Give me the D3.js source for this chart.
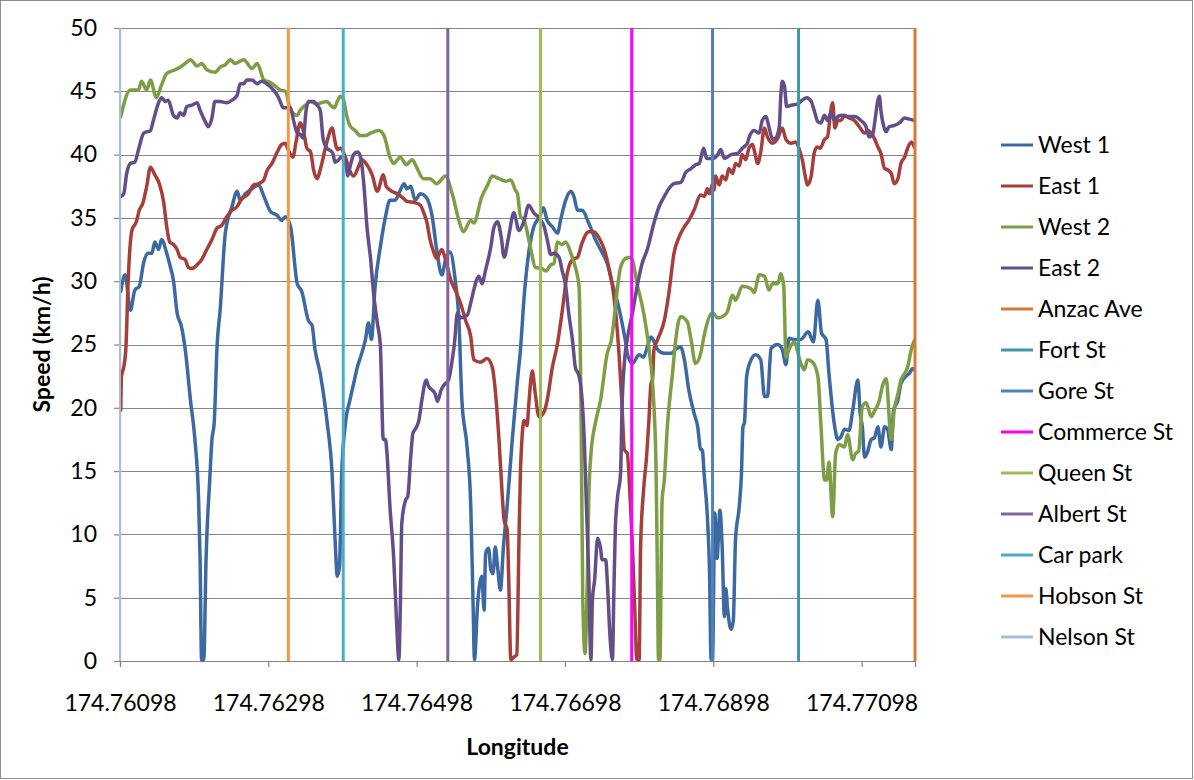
<!DOCTYPE html>
<html>
<head>
<meta charset="utf-8">
<script src="https://cdn.jsdelivr.net/npm/d3@7"></script>
<style>
  body { margin: 0; background: #fff; }
  #fig { width: 1194px; height: 780px; }
  text { font-family: Lato, "Open Sans", sans-serif; fill: #000; }
</style>
</head>
<body>
<div id="fig"></div>
<script>
let figName = 'fig';

// speed traces, [longitude, km/h]
let west1 = [[174.76099,29.2],[174.76105,30.5],[174.76112,27.7],[174.76118,29.3],[174.76124,29.6],[174.7613,31.5],[174.76136,32.2],[174.76141,32.2],[174.76145,33.1],[174.7615,32.5],[174.76154,33.3],[174.76161,32.2],[174.76166,31.1],[174.7617,30.1],[174.76175,27.5],[174.76181,26.4],[174.76186,24.6],[174.76193,20.6],[174.76199,17.5],[174.76204,12.7],[174.76206,8.0],[174.76208,0.1],[174.76211,0.1],[174.76214,8.0],[174.76219,14.3],[174.76222,17.5],[174.76225,18.8],[174.76229,25.0],[174.76233,27.7],[174.7624,33.8],[174.76249,35.9],[174.76256,37.1],[174.7626,36.4],[174.76267,36.9],[174.76276,37.3],[174.76285,37.6],[174.76292,36.7],[174.76301,35.5],[174.7631,35.2],[174.76316,34.8],[174.76321,35.1],[174.76328,34.3],[174.76337,29.8],[174.76343,29.2],[174.76352,26.9],[174.76357,26.5],[174.76361,24.6],[174.76368,22.7],[174.76377,19.0],[174.76384,14.8],[174.76388,9.6],[174.76391,6.7],[174.76394,7.5],[174.76397,14.8],[174.76402,18.8],[174.76408,20.6],[174.76413,21.9],[174.76418,23.2],[174.76424,24.3],[174.76429,25.4],[174.76433,26.7],[174.76437,25.4],[174.76442,29.6],[174.76449,32.7],[174.76456,35.1],[174.76462,36.4],[174.76469,36.4],[174.76476,37.2],[174.76481,37.7],[174.76485,37.3],[174.7649,37.5],[174.76496,36.4],[174.76503,36.9],[174.7651,36.7],[174.76519,35.1],[174.76525,32.5],[174.76532,30.5],[174.76537,31.7],[174.76543,32.3],[174.7655,30.1],[174.76555,26.9],[174.76559,20.6],[174.76566,16.9],[174.76571,12.2],[174.76574,4.8],[174.76576,0.1],[174.7658,4.3],[174.76583,6.1],[174.76586,6.7],[174.76589,4.0],[174.76591,8.5],[174.76595,8.9],[174.76598,7.2],[174.76601,6.9],[174.76604,9.0],[174.76607,7.5],[174.76611,5.6],[174.76615,9.0],[174.7662,12.2],[174.76627,17.5],[174.76634,22.2],[174.76638,24.6],[174.76643,28.8],[174.76649,32.2],[174.76656,34.3],[174.76664,35.1],[174.76669,35.8],[174.76674,34.8],[174.76681,34.3],[174.76688,33.8],[174.76692,34.8],[174.76699,36.4],[174.76706,37.1],[174.7671,36.7],[174.76715,35.6],[174.76721,35.6],[174.7673,34.6],[174.76739,33.3],[174.76746,32.5],[174.76755,31.4],[174.76762,29.8],[174.76769,28.3],[174.76775,26.7],[174.7678,25.1],[174.76782,24.3],[174.76789,23.5],[174.76798,24.2],[174.76804,24.0],[174.76809,24.8],[174.76814,25.6],[174.76823,24.6],[174.76832,24.3],[174.76841,24.3],[174.76847,24.6],[174.76854,24.8],[174.76859,23.8],[174.76865,21.4],[174.76872,19.6],[174.76877,18.5],[174.76881,16.7],[174.76883,16.7],[174.76886,14.5],[174.7689,11.4],[174.76893,6.9],[174.76895,0.1],[174.76897,0.1],[174.769,11.7],[174.76903,8.1],[174.76907,11.9],[174.7691,9.0],[174.76913,3.5],[174.76915,5.7],[174.76917,4.3],[174.76922,2.5],[174.76925,3.2],[174.76928,9.6],[174.76933,12.2],[174.76936,14.8],[174.76938,18.5],[174.7694,18.8],[174.76943,22.5],[174.76949,23.8],[174.76955,24.2],[174.76962,23.8],[174.76967,20.9],[174.76971,20.9],[174.76976,24.7],[174.76985,25.0],[174.76991,24.6],[174.76996,23.4],[174.77,25.5],[174.77007,25.4],[174.77016,25.4],[174.77026,26.0],[174.77033,25.2],[174.77039,28.5],[174.77044,25.9],[174.7705,25.4],[174.77054,22.7],[174.77061,18.8],[174.77066,17.5],[174.7707,17.7],[174.77075,18.3],[174.77081,18.2],[174.77086,19.8],[174.77093,22.2],[174.77096,19.6],[174.77099,18.5],[174.77102,16.1],[174.77106,16.5],[174.77111,17.5],[174.77115,17.6],[174.7712,18.5],[174.77124,16.9],[174.77129,18.5],[174.77133,18.3],[174.77138,16.7],[174.77141,19.8],[174.77147,20.6],[174.77151,21.9],[174.77158,22.5],[174.77162,22.7],[174.77167,23.1],[174.77169,23.0]];

let east1 = [[174.76099,19.8],[174.761,22.5],[174.76103,23.2],[174.76106,24.8],[174.76109,30.0],[174.76114,34.0],[174.7612,34.7],[174.76124,35.6],[174.76129,36.2],[174.76134,37.5],[174.76139,39.0],[174.76145,38.4],[174.76151,37.7],[174.76157,36.2],[174.76161,34.3],[174.76165,33.1],[174.7617,32.9],[174.76175,32.5],[174.76179,31.9],[174.76186,31.7],[174.7619,31.1],[174.76195,31.0],[174.76202,31.3],[174.76208,31.7],[174.76215,32.5],[174.76222,33.3],[174.76229,34.2],[174.76235,34.4],[174.76242,35.1],[174.76249,35.6],[174.76256,35.9],[174.76262,36.5],[174.76271,36.9],[174.76278,37.6],[174.76285,37.7],[174.76292,38.0],[174.76296,38.7],[174.76303,39.3],[174.7631,40.2],[174.76316,40.8],[174.76321,40.9],[174.76324,40.5],[174.76328,40.0],[174.76331,39.8],[174.76336,41.2],[174.76341,42.5],[174.76346,41.7],[174.7635,40.5],[174.76355,40.2],[174.76359,38.8],[174.76364,38.1],[174.76368,38.8],[174.76377,41.0],[174.76384,42.1],[174.76388,41.0],[174.76391,40.4],[174.76395,40.5],[174.76403,39.6],[174.76408,38.7],[174.76413,38.3],[174.7642,39.1],[174.76424,39.6],[174.76431,39.2],[174.76438,38.4],[174.76445,37.1],[174.76453,38.4],[174.76457,37.5],[174.76462,37.2],[174.76472,36.9],[174.76481,36.5],[174.76485,36.3],[174.76496,36.2],[174.76503,36.0],[174.76507,35.5],[174.76512,34.6],[174.76516,33.3],[174.76521,32.3],[174.76525,31.8],[174.76532,32.5],[174.76537,31.7],[174.76544,30.1],[174.7655,29.3],[174.76557,28.3],[174.76564,26.9],[174.76571,25.6],[174.76575,23.8],[174.76584,23.6],[174.76593,23.9],[174.766,23.2],[174.76604,21.4],[174.76609,17.5],[174.76613,13.5],[174.76616,11.1],[174.7662,10.4],[174.76622,6.9],[174.76625,0.1],[174.76629,0.3],[174.76633,0.5],[174.76636,9.6],[174.76638,15.0],[174.76643,19.0],[174.76647,18.6],[174.76649,20.1],[174.76654,22.9],[174.76658,21.1],[174.76663,19.3],[174.7667,19.7],[174.76674,20.6],[174.76681,23.2],[174.76688,25.1],[174.76694,27.5],[174.76701,30.6],[174.76708,31.7],[174.76715,31.9],[174.76721,33.0],[174.7673,33.9],[174.76737,33.9],[174.76744,33.4],[174.76751,32.5],[174.76757,31.1],[174.76764,28.8],[174.7677,25.0],[174.76775,20.1],[174.76778,16.7],[174.76782,16.4],[174.76786,12.7],[174.76789,9.0],[174.76792,4.3],[174.76795,0.1],[174.76798,0.1],[174.768,9.0],[174.76804,13.5],[174.76808,16.1],[174.76811,18.8],[174.76814,21.9],[174.76816,22.2],[174.76818,24.6],[174.76823,25.4],[174.76832,26.9],[174.76838,29.0],[174.76845,32.2],[174.76852,33.5],[174.76859,34.3],[174.76865,34.8],[174.76872,35.6],[174.76881,36.8],[174.76886,36.7],[174.7689,37.3],[174.76893,36.9],[174.76897,37.7],[174.76899,37.2],[174.76901,38.3],[174.76906,37.6],[174.7691,38.3],[174.76915,38.0],[174.76919,38.9],[174.76924,38.5],[174.76928,39.3],[174.76933,39.1],[174.76937,40.0],[174.76942,39.6],[174.76946,40.5],[174.76951,40.8],[174.76953,40.4],[174.76958,39.3],[174.76962,40.2],[174.76967,42.1],[174.76971,41.4],[174.76978,40.9],[174.76985,41.3],[174.76991,42.1],[174.76996,41.2],[174.77003,40.9],[174.77009,41.0],[174.77014,40.4],[174.77018,39.6],[174.77023,38.0],[174.77025,37.6],[174.7703,38.3],[174.77034,40.1],[174.77038,40.6],[174.77042,40.5],[174.77048,41.2],[174.77052,41.4],[174.77057,43.7],[174.77059,44.1],[174.77062,42.1],[174.77066,42.7],[174.7707,42.7],[174.77075,43.1],[174.77081,42.9],[174.77088,42.7],[174.77095,42.2],[174.77102,41.7],[174.77106,41.9],[174.77111,41.7],[174.77115,41.3],[174.7712,40.6],[174.77124,40.1],[174.77129,38.9],[174.77133,38.8],[174.77138,38.5],[174.77142,37.7],[174.77147,38.1],[174.77151,39.3],[174.77156,39.8],[174.7716,40.5],[174.77165,41.0],[174.77169,40.6]];

let west2 = [[174.76099,43.0],[174.76112,45.1],[174.76123,45.1],[174.76127,45.8],[174.76134,45.1],[174.76139,45.9],[174.76147,44.5],[174.76154,45.5],[174.76161,46.4],[174.76168,46.6],[174.76179,46.9],[174.76186,47.2],[174.76193,47.5],[174.76202,47.0],[174.76208,47.2],[174.76215,46.7],[174.76226,46.5],[174.76233,46.9],[174.7624,47.1],[174.76247,47.5],[174.76253,47.2],[174.76265,47.5],[174.76276,46.8],[174.76283,47.2],[174.76292,45.9],[174.76301,45.7],[174.76314,45.1],[174.76321,45.0],[174.76328,43.5],[174.76337,43.1],[174.76341,43.5],[174.76348,43.9],[174.76355,44.2],[174.76363,44.0],[174.7637,44.1],[174.76377,44.2],[174.76382,43.9],[174.76387,43.7],[174.76391,44.2],[174.76395,44.6],[174.76399,44.4],[174.76404,43.0],[174.76408,42.3],[174.76415,41.9],[174.76422,41.5],[174.76429,41.5],[174.76436,41.7],[174.76447,41.9],[174.76454,41.5],[174.76462,39.8],[174.76467,39.3],[174.76476,39.8],[174.76484,39.2],[174.76492,39.6],[174.76498,39.0],[174.76507,38.1],[174.76516,38.1],[174.76525,37.7],[174.76537,38.3],[174.76546,36.9],[174.76555,34.8],[174.76561,33.9],[174.76571,34.8],[174.76575,34.6],[174.76586,36.7],[174.76593,37.5],[174.766,38.3],[174.76609,38.1],[174.76618,37.9],[174.76625,38.0],[174.76631,37.2],[174.76634,36.9],[174.76638,35.1],[174.76643,34.8],[174.76652,32.5],[174.76658,31.1],[174.76667,31.0],[174.76672,30.8],[174.76679,31.3],[174.76683,31.4],[174.76688,33.1],[174.76694,32.9],[174.76699,33.1],[174.76706,32.2],[174.76712,31.1],[174.76717,29.6],[174.7672,18.0],[174.76722,5.0],[174.76725,0.6],[174.76728,6.0],[174.7673,12.7],[174.76733,16.3],[174.76739,18.8],[174.76746,20.6],[174.76755,24.3],[174.7676,25.2],[174.76773,31.1],[174.7678,31.8],[174.76787,31.9],[174.76796,29.6],[174.76805,27.2],[174.76811,24.8],[174.76818,20.1],[174.76821,14.6],[174.76823,5.0],[174.76824,0.1],[174.76826,0.1],[174.76829,12.7],[174.76832,14.3],[174.76836,18.5],[174.76843,22.7],[174.76847,25.2],[174.76854,27.2],[174.76863,26.8],[174.76868,25.4],[174.76874,23.5],[174.76881,24.3],[174.76886,25.8],[174.76897,27.5],[174.76904,27.1],[174.76913,27.3],[174.76917,27.6],[174.76924,28.9],[174.76928,28.5],[174.76937,29.6],[174.76949,29.4],[174.76953,29.1],[174.7696,30.5],[174.76967,30.4],[174.76973,29.3],[174.76978,29.8],[174.76985,29.8],[174.76989,30.6],[174.76993,29.6],[174.76996,24.0],[174.77,24.6],[174.77007,25.2],[174.77016,23.5],[174.77021,23.0],[174.77025,23.8],[174.77032,23.6],[174.77039,22.5],[174.77043,18.8],[174.77048,14.3],[174.77051,14.3],[174.77054,15.7],[174.77059,11.4],[174.77063,16.4],[174.77068,17.1],[174.77075,16.9],[174.77079,17.9],[174.77086,15.9],[174.7709,16.4],[174.77094,16.6],[174.77099,20.1],[174.77104,20.4],[174.77111,19.3],[174.77115,19.7],[174.77122,20.6],[174.77126,21.7],[174.77131,22.3],[174.77138,17.5],[174.77142,19.8],[174.77147,21.1],[174.77151,22.2],[174.77156,22.7],[174.7716,23.2],[174.77165,24.6],[174.77169,25.3]];

let east2 = [[174.76099,36.7],[174.76103,36.9],[174.76107,38.5],[174.76112,39.3],[174.76118,39.4],[174.76123,40.4],[174.7613,41.7],[174.76139,41.9],[174.76143,42.7],[174.7615,44.1],[174.76154,44.5],[174.76159,44.2],[174.76163,44.3],[174.7617,43.1],[174.76175,42.9],[174.76179,43.3],[174.76184,43.1],[174.76188,43.8],[174.76195,43.9],[174.76202,44.1],[174.76206,43.5],[174.76213,42.6],[174.76217,42.2],[174.76222,42.9],[174.76226,44.2],[174.76233,44.2],[174.76242,44.1],[174.76249,44.3],[174.76256,44.7],[174.7626,45.6],[174.76265,45.6],[174.76269,45.9],[174.76276,45.9],[174.76283,45.6],[174.76289,45.8],[174.76296,45.6],[174.76305,45.1],[174.7631,44.7],[174.76314,44.2],[174.76318,43.7],[174.76323,43.7],[174.76328,43.7],[174.76332,42.7],[174.76337,41.7],[174.76341,41.6],[174.76345,41.3],[174.76349,43.5],[174.76352,44.2],[174.76359,44.2],[174.76364,43.9],[174.76368,43.5],[174.76372,41.2],[174.76377,40.5],[174.76382,40.3],[174.76385,40.1],[174.76388,39.4],[174.76393,39.6],[174.76396,39.8],[174.76403,39.1],[174.76405,38.3],[174.76408,39.0],[174.76413,40.0],[174.76418,40.2],[174.76422,39.9],[174.76427,37.5],[174.76431,34.3],[174.76436,31.7],[174.7644,29.0],[174.76445,26.7],[174.76449,25.0],[174.76453,17.5],[174.76456,17.5],[174.76458,16.4],[174.76462,12.2],[174.76467,8.2],[174.76471,3.0],[174.76474,0.1],[174.76476,4.3],[174.76478,10.9],[174.76483,12.7],[174.76486,13.0],[174.7649,16.1],[174.76493,18.0],[174.76496,18.3],[174.76501,19.0],[174.76505,20.6],[174.76511,22.2],[174.76514,21.7],[174.76519,21.4],[174.76523,21.1],[174.76526,20.5],[174.76531,21.4],[174.76535,21.8],[174.76541,22.2],[174.76546,23.8],[174.76549,25.1],[174.76553,27.5],[174.76557,27.1],[174.76566,27.3],[174.76571,28.3],[174.76575,29.3],[174.76582,30.4],[174.76586,29.8],[174.76591,30.9],[174.76598,32.7],[174.76602,34.2],[174.76607,34.7],[174.76612,33.5],[174.76616,31.9],[174.76622,33.5],[174.76629,35.4],[174.76636,34.0],[174.76643,34.8],[174.76649,36.0],[174.76656,35.4],[174.76663,35.0],[174.7667,34.3],[174.76674,33.3],[174.76679,32.1],[174.76683,32.2],[174.7669,31.9],[174.76694,30.9],[174.76699,29.6],[174.76703,27.5],[174.76708,25.4],[174.76712,23.2],[174.76717,22.5],[174.7672,21.4],[174.76724,17.5],[174.76727,12.2],[174.7673,6.9],[174.76733,0.1],[174.76735,4.8],[174.76738,6.4],[174.76742,9.7],[174.76746,8.9],[174.76748,8.0],[174.76753,8.0],[174.76755,6.4],[174.76759,1.7],[174.76762,0.1],[174.76764,5.6],[174.76766,10.6],[174.76769,13.0],[174.76773,14.8],[174.76775,20.1],[174.76778,23.5],[174.76782,25.4],[174.76789,27.5],[174.76796,29.8],[174.76802,31.4],[174.76809,32.5],[174.76818,34.6],[174.76825,35.9],[174.76832,36.7],[174.76838,37.3],[174.76845,37.7],[174.76854,37.8],[174.76861,38.6],[174.76868,38.9],[174.76874,39.2],[174.76879,39.3],[174.76885,40.5],[174.76889,39.7],[174.76897,39.7],[174.76904,40.0],[174.76908,40.4],[174.76913,39.7],[174.76922,40.0],[174.76931,40.1],[174.76937,40.5],[174.76944,40.9],[174.76946,41.3],[174.76953,41.9],[174.7696,41.7],[174.76964,42.7],[174.76969,43.0],[174.76973,42.2],[174.76978,41.2],[174.76982,41.3],[174.76987,42.2],[174.76989,44.6],[174.76991,45.8],[174.76994,45.4],[174.76997,43.8],[174.77003,43.9],[174.77012,44.0],[174.77018,44.3],[174.77024,44.5],[174.7703,44.2],[174.77034,43.5],[174.77039,42.6],[174.77043,42.5],[174.77048,43.1],[174.77052,42.7],[174.77057,43.3],[174.77061,42.7],[174.77066,43.0],[174.77072,43.1],[174.77079,43.0],[174.77088,43.0],[174.77097,42.7],[174.77104,42.2],[174.77108,41.4],[174.77113,41.6],[174.77116,42.7],[174.7712,44.3],[174.77122,44.6],[174.77124,43.5],[174.77128,42.2],[174.77131,41.8],[174.77135,42.2],[174.77142,42.3],[174.77149,42.5],[174.77156,42.9],[174.77162,42.8],[174.77169,42.7]];

// street crossings, drawn as vertical lines from 0 to 50 km/h
let streetNames = ['Anzac Ave', 'Fort St', 'Gore St', 'Commerce St', 'Queen St', 'Albert St', 'Car park', 'Hobson St', 'Nelson St'];
let streetLon = [174.7717, 174.77013, 174.76897, 174.76788, 174.76665, 174.7654, 174.76399, 174.76325, 174.76098];
let streetSpeed = [0, 50];

let traceNames = ['West 1', 'East 1', 'West 2', 'East 2'];
let traces = [west1, east1, west2, east2];

let xTicks = [174.76098, 174.76298, 174.76498, 174.76698, 174.76898, 174.77098];
let xDomain = [174.76098, 174.7717];
let yTicks = [0, 5, 10, 15, 20, 25, 30, 35, 40, 45, 50];

let traceColors = ['#3c69a1', '#a63f3b', '#7e9e45', '#634e89'];
let streetColors = ['#d87a34', '#3b97ae', '#4f81bd', '#ff00ff', '#9bbb59', '#8064a2', '#4bacc6', '#f79646', '#a6bcdc'];

let width = 1194;
let height = 780;
let margin = {top: 28, right: 279, bottom: 119, left: 120};
let plot_width = width - margin.left - margin.right;
let plot_height = height - margin.top - margin.bottom;
const gridColor = '#868686';
const fontSize = 23;

let svg = d3.select(`div#${figName}`).append('svg')
    .attr('width', width)
    .attr('height', height);

svg.append('rect')
    .attr('x', 0.5).attr('y', 0.5)
    .attr('width', width - 2).attr('height', height - 2)
    .attr('fill', '#fff')
    .attr('stroke', '#8c8c8c');

let plot = svg.append('g')
    .attr('transform', `translate(${margin.left}, ${margin.top})`);

let x = d3.scaleLinear().domain(xDomain).range([0, plot_width]);
let y = d3.scaleLinear().domain([0, 50]).range([plot_height, 0]);

// horizontal gridlines
plot.append('g')
  .selectAll('line')
  .data(yTicks)
  .join('line')
    .attr('x1', 0).attr('x2', plot_width)
    .attr('y1', d => Math.round(y(d)) + 0.5)
    .attr('y2', d => Math.round(y(d)) + 0.5)
    .attr('stroke', gridColor)
    .attr('stroke-width', 1.2);

let yAxis = plot.append('g')
    .call(d3.axisLeft(y).tickValues(yTicks).tickSize(6).tickPadding(17));

let xAxis = plot.append('g')
    .attr('transform', `translate(0,${plot_height})`)
    .call(d3.axisBottom(x).tickValues(xTicks).tickFormat(d3.format('.5f')).tickSize(6).tickPadding(28));

[xAxis, yAxis].forEach(ax => {
    ax.attr('font-family', null).attr('font-size', null);
    ax.select('.domain').attr('stroke', gridColor).attr('stroke-width', 1.2);
    ax.selectAll('.tick line').attr('stroke', gridColor).attr('stroke-width', 1.2);
    ax.selectAll('.tick text').style('font-size', fontSize + 'px');
});

let line = d3.line()
    .x(d => x(d[0]))
    .y(d => y(d[1]))
    .curve(d3.curveMonotoneX);

plot.append('g')
  .selectAll('path')
  .data(traces)
  .join('path')
    .attr('d', line)
    .attr('fill', 'none')
    .attr('stroke', (d, i) => traceColors[i])
    .attr('stroke-width', 3.5)
    .attr('stroke-linejoin', 'round')
    .attr('stroke-linecap', 'round');

plot.append('g')
  .selectAll('line')
  .data(streetLon)
  .join('line')
    .attr('x1', d => x(d)).attr('x2', d => x(d))
    .attr('y1', y(streetSpeed[0])).attr('y2', y(streetSpeed[1]))
    .attr('stroke', (d, i) => streetColors[i])
    .attr('stroke-width', (d, i) => streetNames[i] == 'Nelson St' ? 2 : 3);

// axis titles
svg.append('text')
    .attr('transform', `translate(42, ${margin.top + plot_height / 2}) rotate(-90)`)
    .attr('text-anchor', 'middle')
    .attr('dy', '0.35em')
    .style('font-size', fontSize + 'px')
    .style('font-weight', 'bold')
    .text('Speed (km/h)');

svg.append('text')
    .attr('x', margin.left + plot_width / 2)
    .attr('y', 747)
    .attr('text-anchor', 'middle')
    .attr('dy', '0.35em')
    .style('font-size', fontSize + 'px')
    .style('font-weight', 'bold')
    .text('Longitude');

// legend
let legendNames = traceNames.concat(streetNames);
let legendColors = traceColors.concat(streetColors);

let legend = svg.append('g')
    .attr('transform', 'translate(1001, 145)');

let rows = legend.selectAll('g')
    .data(legendNames)
    .join('g')
    .attr('transform', (d, i) => `translate(0, ${i * 41})`);

rows.append('line')
    .attr('x1', 0).attr('x2', 32)
    .attr('stroke', (d, i) => legendColors[i])
    .attr('stroke-width', 3);

rows.append('text')
    .attr('x', 37)
    .attr('dy', '0.35em')
    .style('font-size', fontSize + 'px')
    .text(d => d);
</script>
</body>
</html>
